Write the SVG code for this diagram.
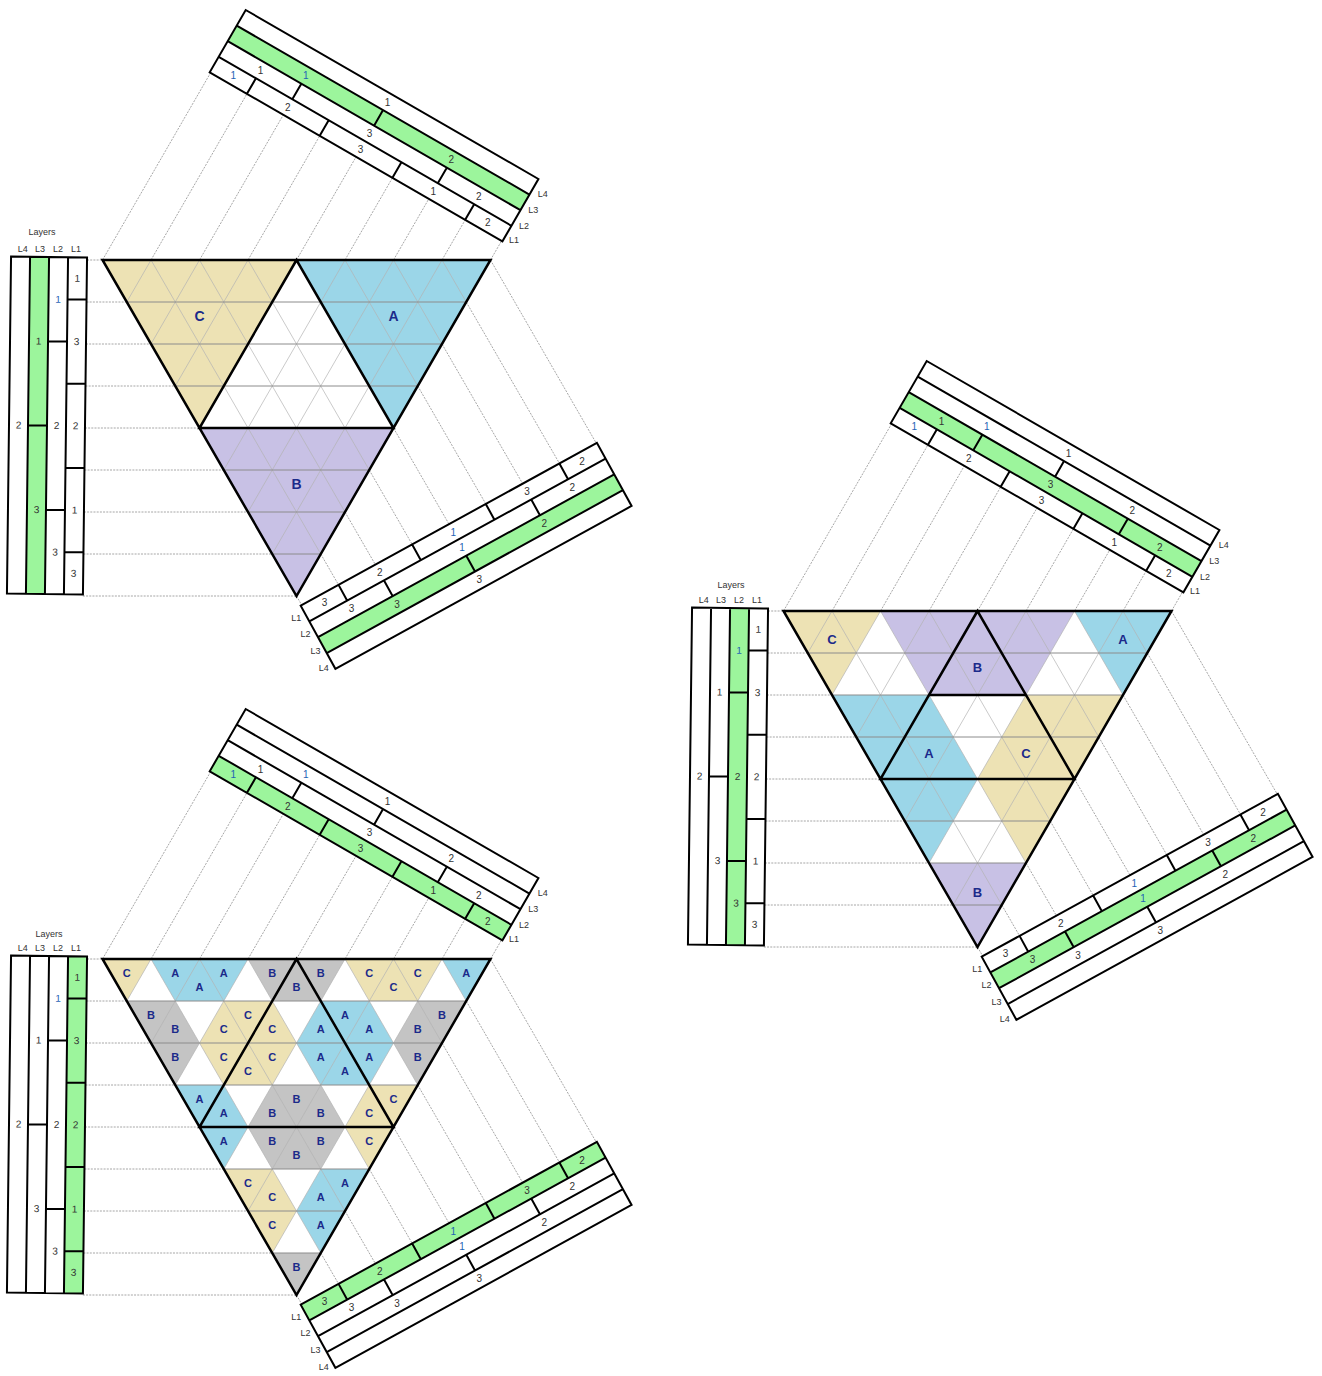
<svg xmlns="http://www.w3.org/2000/svg" width="1322" height="1376" viewBox="0 0 1322 1376">
<style>
text{font-family:"Liberation Sans",Arial,sans-serif}
.n{font-size:10px;fill:#333;text-anchor:middle;dominant-baseline:central}
.nb{fill:#1f63b5}
.h{font-size:9px;fill:#333}
.hm{text-anchor:middle}
.he{text-anchor:end}
.lab{font-weight:bold;fill:#1b2a8a;text-anchor:middle;dominant-baseline:central}
.f14{font-size:14px}
.f13{font-size:13px}
.f11{font-size:11px}
.grn{fill:#9cf59c}
.bl{fill:none;stroke:#000;stroke-width:2}
.pj{fill:none;stroke:#8f8f8f;stroke-width:0.8;stroke-dasharray:2 1.2}
.gh{fill:none;stroke:#8c8c8c;stroke-width:1}
.gd{fill:none;stroke:#b3b3b3;stroke-width:0.7}
.tk{fill:none;stroke:#000;stroke-width:2.5}
.cA{fill:#9bd6e8}
.cB{fill:#c8c1e5}
.cG{fill:#c4c4c4}
.cC{fill:#ede2b4}
</style>
<defs>
<g id="proj" class="pj">
<path d="M87,260H102.5M86.45,302H126.75M85.94,344H151M85.43,386H175.25M84.91,428H199.5M84.4,470H223.75M83.89,512H248M83.38,554H272.25M82.86,596H296.5"/>
<path d="M102.5,260L210.55,72.85M151,260L246.9,93.9M199.5,260L283.3,114.9M248,260L319.7,135.9M296.5,260L356.05,156.9M345,260L392.4,177.9M393.5,260L428.8,198.9M442,260L465.2,219.9M490.5,260L501.55,240.9"/>
<path d="M296.5,596L301.77,605.12M320.75,554L338.57,584.86M345,512L375.38,564.62M369.25,470L412.2,544.38M393.5,428L449,524.13M417.75,386L485.8,503.89M442,344L522.62,483.63M466.25,302L559.44,463.4M490.5,260L596.25,443.15"/>
</g>
<g id="grid">
<path class="gd" d="M151,260L126.75,302M199.5,260L151,344M248,260L175.25,386M296.5,260L199.5,428M345,260L223.75,470M393.5,260L248,512M442,260L272.25,554M151,260L320.75,554M199.5,260L345,512M248,260L369.25,470M296.5,260L393.5,428M345,260L417.75,386M393.5,260L442,344M442,260L466.25,302"/>
<path class="gh" d="M126.75,302H466.25M151,344H442M175.25,386H417.75M199.5,428H393.5M223.75,470H369.25M248,512H345M272.25,554H320.75"/>
</g>
<path id="outline" class="tk" d="M102.5,260H490.5L296.5,596ZM296.5,260L199.5,428H393.5Z"/>
<g id="barT">
<g transform="translate(209.7,72.35) rotate(30)">
<path class="bl" d="M0,-72H338V0H0ZM0,-54H338M0,-36H338M0,-18H338M43,-18V0M127,-18V0M211,-18V0M295,-18V0M85,-36V-18M253,-36V-18M169,-54V-36"/>
<text class="n nb" transform="translate(22,-9) rotate(-30)">1</text>
<text class="n" transform="translate(85,-9) rotate(-30)">2</text>
<text class="n" transform="translate(169,-9) rotate(-30)">3</text>
<text class="n" transform="translate(253,-9) rotate(-30)">1</text>
<text class="n" transform="translate(316,-9) rotate(-30)">2</text>
<text class="n" transform="translate(43,-27) rotate(-30)">1</text>
<text class="n" transform="translate(169,-27) rotate(-30)">3</text>
<text class="n" transform="translate(295,-27) rotate(-30)">2</text>
<text class="n nb" transform="translate(85,-45) rotate(-30)">1</text>
<text class="n" transform="translate(253,-45) rotate(-30)">2</text>
<text class="n" transform="translate(169,-63) rotate(-30)">1</text>
</g>
<text class="h" x="537.7" y="197">L4</text>
<text class="h" x="528.3" y="213">L3</text>
<text class="h" x="519" y="229">L2</text>
<text class="h" x="509" y="243">L1</text>
</g>
<g id="barR">
<g transform="translate(300.7,605.7) rotate(-28.8)">
<path class="bl" d="M0,0H338V72H0ZM0,18H338M0,36H338M0,54H338M43.2,0V18M127.2,0V18M211.2,0V18M295.2,0V18M85.2,18V36M253.2,18V36M169.2,36V54"/>
<text class="n" transform="translate(22.2,9) rotate(28.8)">3</text>
<text class="n" transform="translate(85.2,9) rotate(28.8)">2</text>
<text class="n nb" transform="translate(169.2,9) rotate(28.8)">1</text>
<text class="n" transform="translate(253.2,9) rotate(28.8)">3</text>
<text class="n" transform="translate(316.2,9) rotate(28.8)">2</text>
<text class="n" transform="translate(43.2,27) rotate(28.8)">3</text>
<text class="n nb" transform="translate(169.2,27) rotate(28.8)">1</text>
<text class="n" transform="translate(295.2,27) rotate(28.8)">2</text>
<text class="n" transform="translate(85.2,45) rotate(28.8)">3</text>
<text class="n" transform="translate(253.2,45) rotate(28.8)">2</text>
<text class="n" transform="translate(169.2,63) rotate(28.8)">3</text>
</g>
<text class="h he" x="301.2" y="620.7">L1</text>
<text class="h he" x="310.5" y="637">L2</text>
<text class="h he" x="320.5" y="654">L3</text>
<text class="h he" x="328.8" y="670.7">L4</text>
</g>
<g id="barL">
<g transform="rotate(0.7,47,425)">
<path class="bl" d="M9,257H85V594H9ZM28,257V594M47,257V594M66,257V594M66,299.1H85M66,383.4H85M66,467.6H85M66,551.9H85M47,341.25H66M47,509.75H66M28,425.5H47"/>
<text class="n" x="75.5" y="278">1</text>
<text class="n" x="75.5" y="341.25">3</text>
<text class="n" x="75.5" y="425.5">2</text>
<text class="n" x="75.5" y="509.75">1</text>
<text class="n" x="75.5" y="573">3</text>
<text class="n nb" x="56.5" y="299.1">1</text>
<text class="n" x="56.5" y="425.5">2</text>
<text class="n" x="56.5" y="551.9">3</text>
<text class="n" x="37.5" y="341.25">1</text>
<text class="n" x="37.5" y="509.75">3</text>
<text class="n" x="18.5" y="425.5">2</text>
</g>
<text class="h hm" x="22.7" y="252">L4</text>
<text class="h hm" x="40" y="252">L3</text>
<text class="h hm" x="58" y="252">L2</text>
<text class="h hm" x="76" y="252">L1</text>
</g>
</defs>
<rect width="1322" height="1376" fill="#fff"/>

<g id="diagram1">
<g id="connectors1"><use href="#proj"/></g>
<g id="triangle1">
<polygon class="cC" points="102.5,260 296.5,260 199.5,428"/>
<polygon class="cA" points="296.5,260 490.5,260 393.5,428"/>
<polygon class="cB" points="199.5,428 393.5,428 296.5,596"/>
<use href="#grid"/>
<use href="#outline"/>
<text class="lab f14" x="199.5" y="316">C</text>
<text class="lab f14" x="393.5" y="316">A</text>
<text class="lab f14" x="296.5" y="484">B</text>
</g>
<g id="bars1">
<rect class="grn" x="28" y="257" width="19" height="337" transform="rotate(0.7,47,425)"/>
<rect class="grn" x="0" y="-54" width="338" height="18" transform="translate(209.7,72.35) rotate(30)"/>
<rect class="grn" x="0" y="36" width="338" height="18" transform="translate(300.7,605.7) rotate(-28.8)"/>
<use href="#barL"/><use href="#barT"/><use href="#barR"/>
<text class="h hm" x="42" y="235">Layers</text>
</g>
</g>

<g id="diagram2" transform="translate(681,351)">
<g id="connectors2"><use href="#proj"/></g>
<g id="triangle2">
<polygon class="cC" points="102.5,260 199.5,260 151,344"/>
<polygon class="cB" points="199.5,260 393.5,260 345,344 248,344"/>
<polygon class="cA" points="393.5,260 490.5,260 442,344"/>
<polygon class="cA" points="151,344 248,344 296.5,428 248,512"/>
<polygon class="cC" points="345,344 442,344 345,512 296.5,428"/>
<polygon class="cB" points="248,512 345,512 296.5,596"/>
<use href="#grid"/>
<use href="#outline"/>
<path class="tk" d="M248,344H345"/>
<text class="lab f13" x="151" y="288">C</text>
<text class="lab f13" x="442" y="288">A</text>
<text class="lab f13" x="296.5" y="316">B</text>
<text class="lab f13" x="248" y="402">A</text>
<text class="lab f13" x="345" y="402">C</text>
<text class="lab f13" x="296.5" y="541">B</text>
</g>
<g id="bars2">
<rect class="grn" x="47" y="257" width="19" height="337" transform="rotate(0.7,47,425)"/>
<rect class="grn" x="0" y="-36" width="338" height="18" transform="translate(209.7,72.35) rotate(30)"/>
<rect class="grn" x="0" y="18" width="338" height="18" transform="translate(300.7,605.7) rotate(-28.8)"/>
<use href="#barL"/><use href="#barT"/><use href="#barR"/>
<text class="h hm" x="50" y="237">Layers</text>
</g>
</g>

<g id="diagram3" transform="translate(0,699)">
<g id="connectors3"><use href="#proj"/></g>
<g id="triangle3">
<polygon class="cC" points="102.5,260 151,260 126.75,302"/>
<polygon class="cA" points="151,260 248,260 223.75,302 175.25,302"/>
<polygon class="cG" points="248,260 345,260 320.75,302 272.25,302"/>
<polygon class="cC" points="345,260 442,260 417.75,302 369.25,302"/>
<polygon class="cA" points="442,260 490.5,260 466.25,302"/>
<polygon class="cG" points="126.75,302 175.25,302 199.5,344 175.25,386"/>
<polygon class="cC" points="223.75,302 272.25,302 296.5,344 272.25,386 223.75,386 199.5,344"/>
<polygon class="cA" points="320.75,302 369.25,302 393.5,344 369.25,386 320.75,386 296.5,344"/>
<polygon class="cG" points="417.75,302 466.25,302 417.75,386 393.5,344"/>
<polygon class="cA" points="175.25,386 223.75,386 248,428 223.75,470"/>
<polygon class="cG" points="272.25,386 320.75,386 345,428 320.75,470 272.25,470 248,428"/>
<polygon class="cC" points="369.25,386 417.75,386 369.25,470 345,428"/>
<polygon class="cC" points="223.75,470 272.25,470 296.5,512 272.25,554"/>
<polygon class="cA" points="320.75,470 369.25,470 320.75,554 296.5,512"/>
<polygon class="cG" points="272.25,554 320.75,554 296.5,596"/>
<use href="#grid"/>
<use href="#outline"/>
<g class="lab f11">
<text x="126.75" y="274">C</text>
<text x="175.25" y="274">A</text><text x="199.5" y="288">A</text><text x="223.75" y="274">A</text>
<text x="272.25" y="274">B</text><text x="296.5" y="288">B</text><text x="320.75" y="274">B</text>
<text x="369.25" y="274">C</text><text x="393.5" y="288">C</text><text x="417.75" y="274">C</text>
<text x="466.25" y="274">A</text>
<text x="151" y="316">B</text><text x="175.25" y="330">B</text>
<text x="223.75" y="330">C</text><text x="248" y="316">C</text><text x="272.25" y="330">C</text>
<text x="320.75" y="330">A</text><text x="345" y="316">A</text><text x="369.25" y="330">A</text>
<text x="417.75" y="330">B</text><text x="442" y="316">B</text>
<text x="175.25" y="358">B</text>
<text x="223.75" y="358">C</text><text x="248" y="372">C</text><text x="272.25" y="358">C</text>
<text x="320.75" y="358">A</text><text x="345" y="372">A</text><text x="369.25" y="358">A</text>
<text x="417.75" y="358">B</text>
<text x="199.5" y="400">A</text><text x="223.75" y="414">A</text>
<text x="272.25" y="414">B</text><text x="296.5" y="400">B</text><text x="320.75" y="414">B</text>
<text x="369.25" y="414">C</text><text x="393.5" y="400">C</text>
<text x="223.75" y="442">A</text>
<text x="272.25" y="442">B</text><text x="296.5" y="456">B</text><text x="320.75" y="442">B</text>
<text x="369.25" y="442">C</text>
<text x="248" y="484">C</text><text x="272.25" y="498">C</text>
<text x="320.75" y="498">A</text><text x="345" y="484">A</text>
<text x="272.25" y="526">C</text><text x="320.75" y="526">A</text>
<text x="296.5" y="568">B</text>
</g>
</g>
<g id="bars3">
<rect class="grn" x="66" y="257" width="19" height="337" transform="rotate(0.7,47,425)"/>
<rect class="grn" x="0" y="-18" width="338" height="18" transform="translate(209.7,72.35) rotate(30)"/>
<rect class="grn" x="0" y="0" width="338" height="18" transform="translate(300.7,605.7) rotate(-28.8)"/>
<use href="#barL"/><use href="#barT"/><use href="#barR"/>
<text class="h hm" x="49" y="238">Layers</text>
</g>
</g>
</svg>
